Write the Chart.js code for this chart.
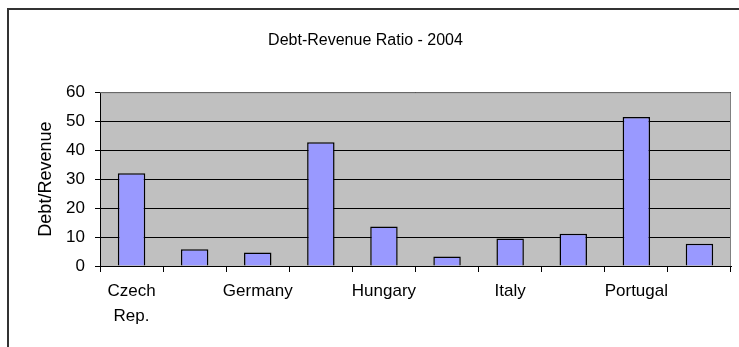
<!DOCTYPE html>
<html>
<head>
<meta charset="utf-8">
<script src="https://cdn.jsdelivr.net/npm/chart.js@4"></script>
<style>
  html, body { margin: 0; padding: 0; background: #fff; overflow: hidden; }
  #wrap { position: relative; width: 739px; height: 347px; }
  #frame { position: absolute; left: 7px; top: 8px; width: 760px; height: 380px; border: 2px solid #333; }
  #chart { position: absolute; left: 0; top: 0; }
</style>
</head>
<body>
<div id="wrap">
  <div id="frame"></div>
  <canvas id="chart" width="739" height="347"></canvas>
</div>
<script>
// Countries; every other label is left blank, as on the printed axis
const countries = [['Czech', 'Rep.'], '', 'Germany', '', 'Hungary', '', 'Italy', '', 'Portugal', ''];
const debtRevenue = [32, 5.8, 4.7, 42.7, 13.6, 3.3, 9.5, 11.1, 51.4, 7.7];
const yTicks = [0, 10, 20, 30, 40, 50, 60];

const font = 'Liberation Sans, Arial, Helvetica, sans-serif';

// grey plot area with a thin grey frame on top/right
const plotArea = {
    id: 'plotArea',
    beforeDraw(chart) {
        const { ctx, chartArea: a } = chart;
        ctx.save();
        ctx.fillStyle = '#c0c0c0';
        ctx.fillRect(a.left, a.top, a.right - a.left, a.bottom - a.top);
        ctx.restore();
    },
    afterDatasetsDraw(chart) {
        const { ctx, chartArea: a } = chart;
        ctx.save();
        ctx.strokeStyle = '#808080';
        ctx.lineWidth = 1;
        ctx.beginPath();
        ctx.moveTo(a.left, a.top + 0.5);
        ctx.lineTo(a.right - 0.5, a.top + 0.5);
        ctx.lineTo(a.right - 0.5, a.bottom);
        ctx.stroke();
        ctx.restore();
    }
};

new Chart(document.getElementById('chart'), {
    type: 'bar',
    data: {
        labels: countries,
        datasets: [{
            data: debtRevenue,
            backgroundColor: '#9999ff',
            borderColor: '#000000',
            borderWidth: 1.5,
            barPercentage: 0.435,
            categoryPercentage: 1
        }]
    },
    options: {
        responsive: false,
        animation: false,
        layout: { padding: { left: 0, right: 8, top: 0, bottom: 0 } },
        plugins: {
            legend: { display: false },
            tooltip: { enabled: false },
            title: {
                display: true,
                text: 'Debt-Revenue Ratio - 2004',
                color: '#000',
                font: { family: font, size: 16, weight: 'normal', lineHeight: 1.2 },
                padding: { top: 31, bottom: 42 }
            }
        },
        scales: {
            x: {
                offset: true,
                grid: { offset: true, drawOnChartArea: false, color: '#000', tickLength: 6 },
                border: { color: '#000', width: 1 },
                ticks: {
                    autoSkip: false,
                    maxRotation: 0,
                    color: '#000',
                    padding: 7,
                    font: { family: font, size: 17, lineHeight: 1.47 }
                },
                afterFit(scale) { scale.height = 81; }
            },
            y: {
                min: 0,
                max: 60,
                afterBuildTicks(scale) { scale.ticks = yTicks.map(v => ({ value: v })); },
                grid: { color: '#000', lineWidth: 1, tickLength: 5 },
                border: { color: '#000', width: 1 },
                ticks: {
                    color: '#000',
                    padding: 10,
                    font: { family: font, size: 17 }
                },
                title: {
                    display: true,
                    text: 'Debt/Revenue',
                    color: '#000',
                    font: { family: font, size: 18, lineHeight: 1.2 },
                    padding: { top: 35, bottom: 0 }
                },
                afterFit(scale) { scale.width = 100; }
            }
        }
    },
    plugins: [plotArea]
});
</script>
</body>
</html>
